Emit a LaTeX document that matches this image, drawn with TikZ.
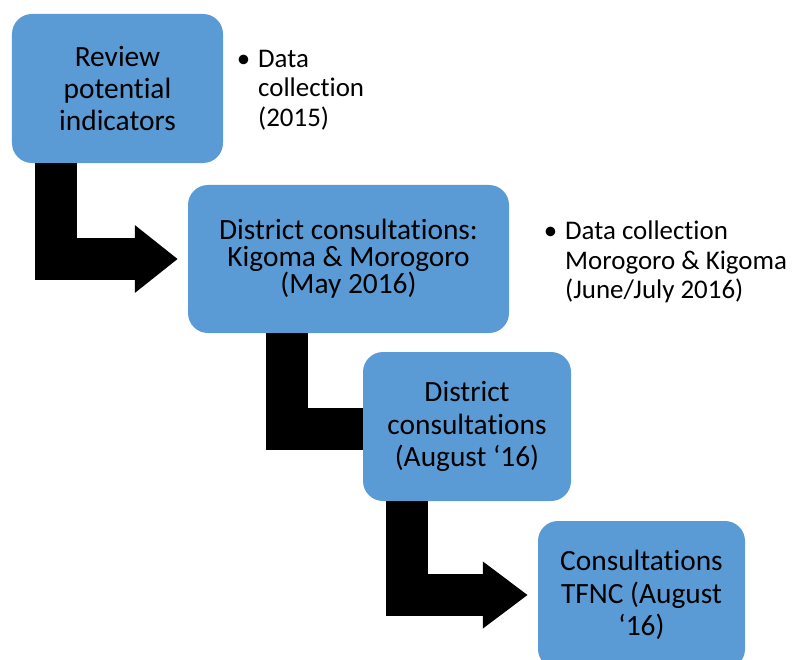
\documentclass[tikz,border=0pt]{standalone}
\usepackage{fontspec}
\setmainfont{Carlito}[Ligatures=NoCommon]
\usepackage{tikz}
\usetikzlibrary{arrows.meta, positioning, calc}
\definecolor{stepblue}{RGB}{91, 155, 213}
\tikzset{
  stepbox/.style={fill=stepblue, rounded corners=20bp, align=center, inner sep=0pt, font=\fontsize{29.5}{32.5}\selectfont},
  bentarrow/.style={black, line width=42bp},
  note/.style={anchor=north west, align=left, inner sep=0pt, font=\fontsize{27}{29.5}\selectfont},
}

\begin{document}
\begin{tikzpicture}[x=1bp, y=-1bp]
  \clip (0, 0) rectangle (792, 660);

  % Steps of the consultation
  \node[stepbox, minimum width=211bp, minimum height=149bp] (review) at (117.5, 88.5) {Review\\potential\\indicators};
  \node[stepbox, minimum width=321bp, minimum height=148bp, font=\fontsize{29.5}{27}\selectfont] (may) at (348.5, 259) {District consultations:\\Kigoma \& Morogoro\\(May 2016)};
  \node[stepbox, minimum width=208bp, minimum height=149bp] (august) at (467, 426.5) {District\\consultations\\(August ‘16)};
  \node[stepbox, minimum width=207bp, minimum height=148bp] (tfnc) at (641.5, 595) {Consultations\\TFNC (August\\‘16)};

  % Bent arrows between the steps
  \draw[bentarrow, -{Triangle[length=43bp, width=65bp]}, shorten >=10bp] ($(review.south west)+(44, 0)$) |- (may.west);
  \draw[bentarrow] ($(may.south west)+(99, 0)$) |- ([yshift=-2bp]august.west);
  \draw[bentarrow, -{Triangle[length=45bp, width=64bp]}, shorten >=10bp] ($(august.south west)+(44.5, 0)$) |- (tfnc.west);

  % Data collection notes
  \node[note] (note2015) at (258, 50) {\llap{\textbullet\hspace{8bp}}Data\\collection\\(2015)};
  \node[note] (note2016) at (565, 221) {\llap{\textbullet\hspace{8bp}}Data collection\\Morogoro \& Kigoma\\(June/July 2016)};
\end{tikzpicture}
\end{document}
